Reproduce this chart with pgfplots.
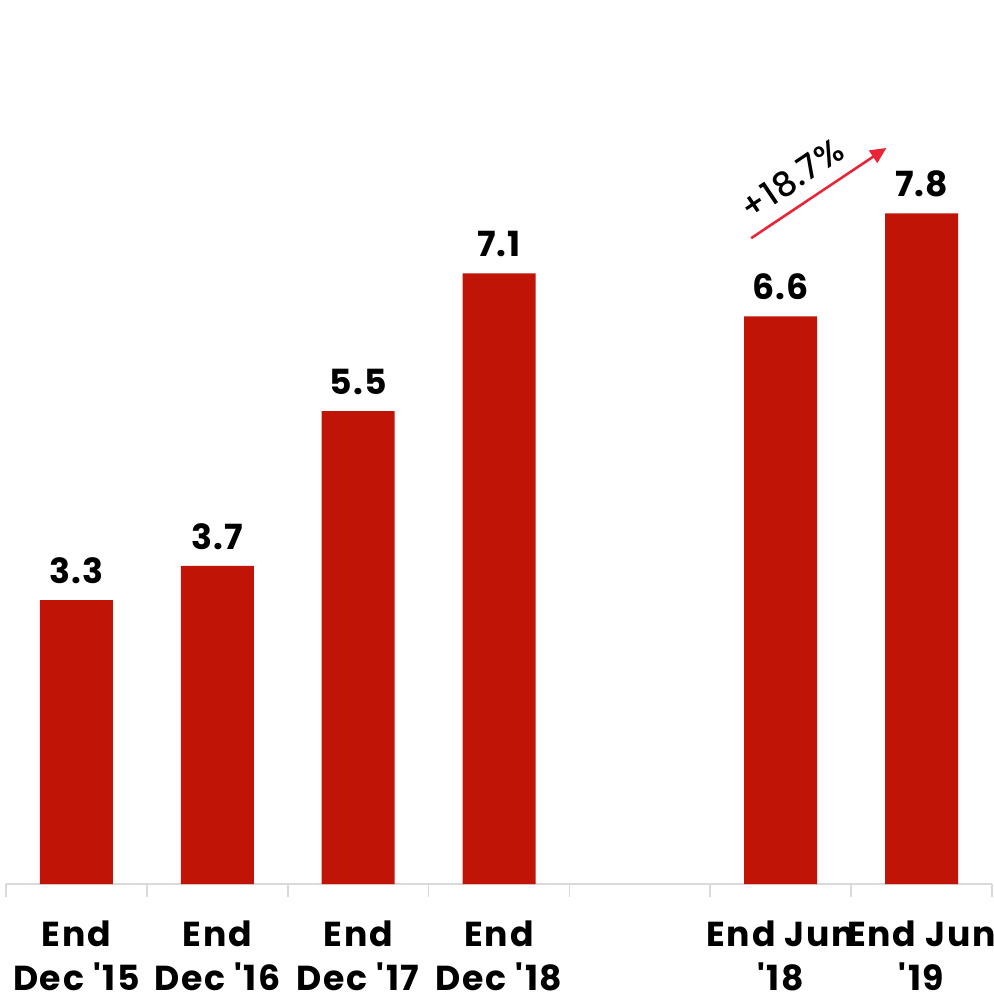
\documentclass[border=0pt]{standalone}
\usepackage{fontspec}
\newfontfamily\gothic{Poppins}[LetterSpace=3]
\newfontfamily\gothicL{Poppins}[LetterSpace=5,WordSpace=1.0]
\newfontfamily\gothicM{Poppins Medium}[LetterSpace=2]
\usepackage{pgfplots}
\pgfplotsset{compat=1.18}
\usetikzlibrary{calc,arrows.meta}
\definecolor{barred}{RGB}{192,20,6}
\definecolor{arrred}{RGB}{235,35,55}
\definecolor{axgray}{RGB}{217,217,217}
\begin{document}
\begin{tikzpicture}[x=0.75pt,y=0.75pt]
\begin{axis}[
  name=ax,
  scale only axis,
  width=739.5pt, height=663pt,
  xmin=-0.5, xmax=6.5, ymin=0, ymax=10.28,
  axis x line*=bottom, axis y line=none,
  axis line style={axgray, line width=1.2pt},
  x axis line style={-},
  xtick={0,1,2,3,5,6},
  xticklabels={{End\\Dec '15},{End\\Dec '16},{End\\Dec '17},{End\\Dec '18},{End Jun\\'18},{End Jun\\'19}},
  major tick length=0pt,
  minor xtick={-0.5,0.5,1.5,2.5,3.5,4.5,5.5,6.5},
  minor tick length=9.75pt,
  tick align=outside,
  minor tick style={axgray, line width=1.2pt},
  xticklabel style={align=center, anchor=north, inner sep=0pt, yshift=-27.5pt, text depth=0pt,
    font=\gothicL\bfseries\fontsize{26}{33}\selectfont},
  ybar, bar width=54.75pt,
  nodes near coords,
  nodes near coords style={font=\gothic\bfseries\fontsize{26}{33}\selectfont, anchor=south, inner sep=0pt, yshift=12pt,
    /pgf/number format/.cd, fixed, fixed zerofill, precision=1, assume math mode=true},
  clip=false,
]
\addplot[fill=barred, draw=none] coordinates {(0,3.3) (1,3.7) (2,5.5) (3,7.1) (5,6.6) (6,7.8)};
\draw[arrred, line width=1.9pt, -{Triangle[length=12pt,width=11pt]}] (axis cs:4.79,7.51) -- (axis cs:5.75,8.56);
\node[rotate=34, font=\gothicM\fontsize{25.5}{33}\selectfont, inner sep=0pt] at (axis cs:5.08,8.20) {+18.7\%};
\end{axis}
\pgfresetboundingbox
\path[use as bounding box] ($(ax.south west)+(-4.5pt,-84.75pt)$) rectangle ($(ax.north east)+(1.5pt,0pt)$);
\end{tikzpicture}
\end{document}
